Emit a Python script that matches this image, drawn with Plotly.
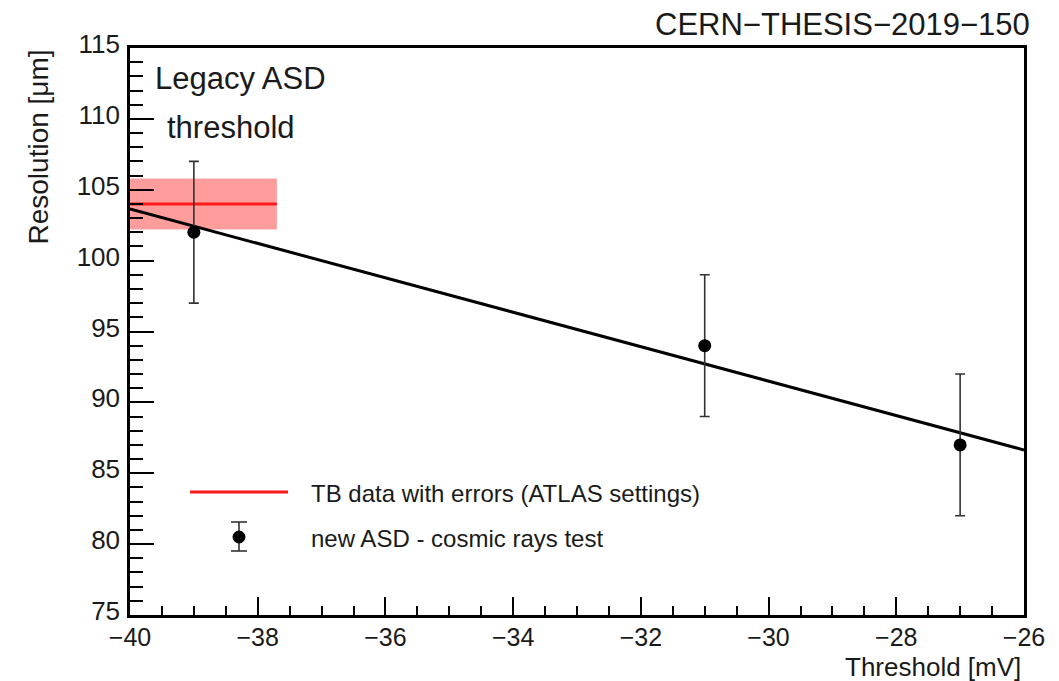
import numpy as np
import plotly.graph_objects as go

# Cosmic-ray test of the new ASD: resolution vs. threshold
threshold_mv = [-39, -31, -27]
resolution_um = [102, 94, 87]
resolution_err = [5, 5, 5]

# Test-beam reference (legacy ASD, ATLAS settings)
tb_threshold_range = [-40, -37.7]
tb_resolution = 104.0
tb_resolution_err = 1.8

x_range = [-40, -26]
y_range = [75, 115]

FONT = "Liberation Sans, Arial, Helvetica, sans-serif"
INK = "#1a1a1a"

# straight-line fit to the cosmic-ray points
slope, intercept = np.polyfit(threshold_mv, resolution_um, 1)
fit_x = np.array(x_range, dtype=float)
fit_y = slope * fit_x + intercept

fig = go.Figure()

# TB error band
band_x = [tb_threshold_range[0], tb_threshold_range[1], tb_threshold_range[1], tb_threshold_range[0]]
band_y = [tb_resolution - tb_resolution_err, tb_resolution - tb_resolution_err,
          tb_resolution + tb_resolution_err, tb_resolution + tb_resolution_err]
fig.add_trace(go.Scatter(x=band_x, y=band_y, fill="toself", mode="none",
                         fillcolor="rgba(255,60,60,0.5)", showlegend=False, hoverinfo="skip"))
fig.add_trace(go.Scatter(x=tb_threshold_range, y=[tb_resolution] * 2, mode="lines",
                         line=dict(color="#ff1a1a", width=3), showlegend=False))

# fit line
fig.add_trace(go.Scatter(x=fit_x, y=fit_y, mode="lines",
                         line=dict(color="black", width=3), showlegend=False))

# measured points
fig.add_trace(go.Scatter(
    x=threshold_mv, y=resolution_um, mode="markers",
    marker=dict(color="black", size=13),
    error_y=dict(type="data", array=resolution_err, color="#333333", thickness=1.6, width=5),
    showlegend=False))

axis_common = dict(showline=True, linecolor="black", linewidth=2.5, mirror=True,
                   showgrid=False, zeroline=False, ticks="inside", tickcolor="black",
                   tickwidth=1.5)

fig.update_xaxes(range=x_range, dtick=2, ticklen=18, ticklabelstandoff=-2,
                 tickfont=dict(family=FONT, size=25, color=INK),
                 minor=dict(ticks="inside", dtick=0.5, ticklen=9, tickcolor="black", tickwidth=1.5),
                 **axis_common)
fig.update_yaxes(range=y_range, dtick=5, ticklen=24, ticklabelstandoff=2, ticklabelshift=-4,
                 tickfont=dict(family=FONT, size=26, color=INK),
                 minor=dict(ticks="inside", dtick=1, ticklen=13, tickcolor="black", tickwidth=1.5),
                 **axis_common)

L, R, T, B = 130, 35, 48, 66
W, H = 1059, 681
pw, ph = W - L - R, H - T - B

def px(xp):
    return (xp - L) / pw

def py(yp):
    return (H - B - yp) / ph

annotations = [
    dict(text="CERN\u2212THESIS\u22122019\u2212150", x=px(1032), y=py(25), xanchor="right", yanchor="middle",
         font=dict(family=FONT, size=31, color=INK)),
    dict(text="Legacy ASD", x=px(153), y=py(78), xanchor="left", yanchor="middle",
         font=dict(family=FONT, size=31, color=INK)),
    dict(text="threshold", x=px(165), y=py(127), xanchor="left", yanchor="middle",
         font=dict(family=FONT, size=31, color=INK)),
    dict(text="Resolution [\u03bcm]", x=px(38), y=1.0, xanchor="center", yanchor="top", textangle=-90,
         font=dict(family=FONT, size=28, color=INK)),
    dict(text="Threshold [mV]", x=px(1023), y=py(667), xanchor="right", yanchor="middle",
         font=dict(family=FONT, size=26, color=INK)),
    dict(text="TB data with errors (ATLAS settings)", x=px(309), y=py(493), xanchor="left", yanchor="middle",
         font=dict(family=FONT, size=24, color=INK)),
    dict(text="new ASD - cosmic rays test", x=px(309), y=py(538), xanchor="left", yanchor="middle",
         font=dict(family=FONT, size=24, color=INK)),
]
for a in annotations:
    a.update(xref="paper", yref="paper", showarrow=False)

# legend glyphs
shapes = [
    dict(type="line", x0=px(190), x1=px(288), y0=py(492), y1=py(492), line=dict(color="#ff1a1a", width=3)),
    dict(type="line", x0=px(239), x1=px(239), y0=py(522), y1=py(551), line=dict(color="#333333", width=1.6)),
    dict(type="line", x0=px(231), x1=px(247), y0=py(522), y1=py(522), line=dict(color="#333333", width=1.6)),
    dict(type="line", x0=px(231), x1=px(247), y0=py(551), y1=py(551), line=dict(color="#333333", width=1.6)),
    dict(type="circle", x0=px(233), x1=px(245), y0=py(531), y1=py(543), fillcolor="black",
         line=dict(color="black", width=1)),
]
for s in shapes:
    s.update(xref="paper", yref="paper")

fig.update_layout(width=W, height=H, margin=dict(l=L, r=R, t=T, b=B),
                  paper_bgcolor="white", plot_bgcolor="white",
                  annotations=annotations, shapes=shapes, showlegend=False)

fig.write_html("out.html")
